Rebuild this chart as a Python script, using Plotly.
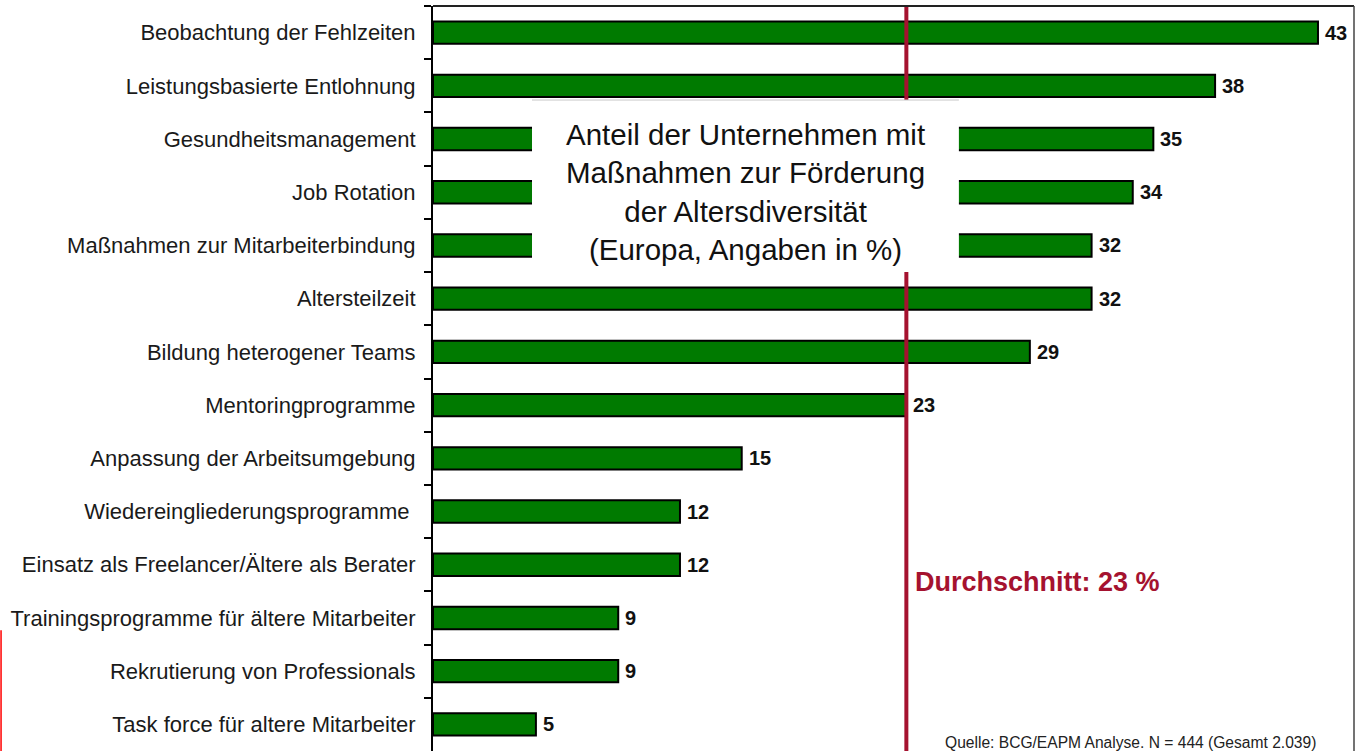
import plotly.graph_objects as go

categories = [
    "Beobachtung der Fehlzeiten",
    "Leistungsbasierte Entlohnung",
    "Gesundheitsmanagement",
    "Job Rotation",
    "Maßnahmen zur Mitarbeiterbindung",
    "Altersteilzeit",
    "Bildung heterogener Teams",
    "Mentoringprogramme",
    "Anpassung der Arbeitsumgebung",
    "Wiedereingliederungsprogramme ",
    "Einsatz als Freelancer/Ältere als Berater",
    "Trainingsprogramme für ältere Mitarbeiter",
    "Rekrutierung von Professionals",
    "Task force für altere Mitarbeiter",
]
values = [43, 38, 35, 34, 32, 32, 29, 23, 15, 12, 12, 9, 9, 5]
average = 23
title_text = "Anteil der Unternehmen mit<br>Maßnahmen zur Förderung<br>der Altersdiversität<br>(Europa, Angaben in %)"
average_text = "Durchschnitt: 23 %"
source_text = "Quelle: BCG/EAPM Analyse. N = 444 (Gesamt 2.039)"

FONT = "Liberation Sans, Arial, sans-serif"
GREEN = "#007a00"
AVG_RED = "#a5122f"

fig = go.Figure()
fig.add_trace(go.Bar(
    x=values,
    y=categories,
    orientation="h",
    width=0.42,
    marker=dict(color=GREEN, line=dict(color="#000000", width=2)),
    hoverinfo="skip",
))

shapes = [
    # average line
    dict(type="line", xref="x", yref="paper", x0=average, x1=average, y0=0, y1=1,
         line=dict(color=AVG_RED, width=4), layer="above"),
    # title box (covers bars and line)
    dict(type="rect", xref="paper", yref="paper", x0=0.1075, x1=0.571, y0=0.643, y1=0.8738,
         fillcolor="white", line=dict(width=0), layer="above"),
    dict(type="line", xref="paper", yref="paper", x0=0.1075, x1=0.571, y0=0.8738, y1=0.8738,
         line=dict(color="#c8c8c8", width=1), layer="above"),
    # frame top and right
    dict(type="line", xref="paper", yref="paper", x0=0, x1=1, y0=1, y1=1,
         line=dict(color="#222222", width=2), layer="above"),
    dict(type="line", xref="paper", yref="paper", x0=1, x1=1, y0=0, y1=1,
         line=dict(color="#444444", width=1.5), layer="above"),
    # red edge mark at far left
    dict(type="line", xref="paper", yref="paper", x0=-0.4690, x1=-0.4690, y0=-0.01, y1=0.162,
         line=dict(color="#ff0000", width=1.5), layer="above"),
]

annotations = [
    dict(text="<b>%d</b>" % v, x=v, y=c, xref="x", yref="y", xanchor="left", yanchor="middle",
         xshift=5, showarrow=False, font=dict(family=FONT, size=20, color="#111111"))
    for c, v in zip(categories, values)
]
annotations += [
    dict(text=title_text, xref="paper", yref="paper", x=0.3388, y=0.750,
         xanchor="center", yanchor="middle", showarrow=False, align="center",
         font=dict(family=FONT, size=29.5, color="#111111")),
    dict(text="<b>" + average_text + "</b>", xref="paper", yref="paper", x=0.521, y=0.2268,
         xanchor="left", yanchor="middle", showarrow=False,
         font=dict(family=FONT, size=27, color=AVG_RED)),
    dict(text=source_text, xref="paper", yref="paper", x=0.961, y=0.012,
         xanchor="right", yanchor="middle", showarrow=False,
         font=dict(family=FONT, size=15.6, color="#222222")),
]

fig.update_layout(
    width=1365, height=751,
    margin=dict(l=433, r=11, t=6, b=0),
    paper_bgcolor="white", plot_bgcolor="white",
    showlegend=False,
    shapes=shapes,
    annotations=annotations,
    xaxis=dict(range=[0, 44.75], showgrid=False, zeroline=False, showticklabels=False,
               showline=False, ticks="", fixedrange=True),
    yaxis=dict(autorange="reversed", type="category", showgrid=False, zeroline=False,
               showline=True, linecolor="#000000", linewidth=2,
               ticks="outside", tickson="boundaries", ticklen=7, tickwidth=2, tickcolor="#000000",
               ticklabelstandoff=11,
               tickfont=dict(family=FONT, size=22, color="#1a1a1a"), fixedrange=True),
)

fig.write_html("out.html", config={"displayModeBar": False},
               post_script="document.body.style.margin='0px';document.body.style.overflow='hidden';")
